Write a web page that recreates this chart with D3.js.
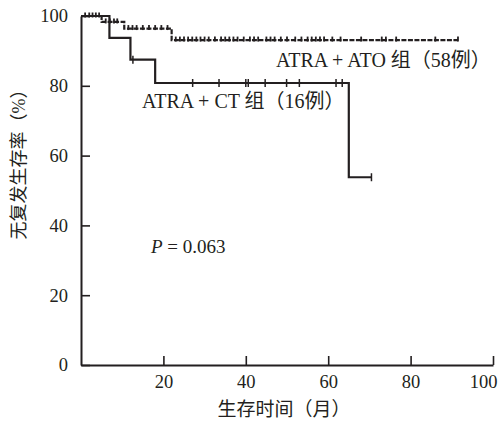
<!DOCTYPE html>
<html lang="zh">
<head>
<meta charset="UTF-8">
<title>无复发生存率</title>
<script src="https://d3js.org/d3.v7.min.js"></script>
<style>
    body { margin: 0; background: #fff; }
    svg text { font-family: "Liberation Serif", "Times New Roman", "Noto Sans CJK SC", serif; fill: #231f20; }
    .cjk { font-family: "Liberation Serif", "Noto Sans CJK SC", serif; }
</style>
</head>
<body>
<svg width="502" height="428"></svg>
<script>
// ticks
const xTicks = [20, 40, 60, 80, 100];
const yTicks = [0, 20, 40, 60, 80, 100];

// ATRA + CT 组 (16例) : step curve
const ctTimes = [0, 6.9, 12, 18, 65, 70.5];
const ctSurv = [100, 93.75, 87.5, 80.8, 53.8, 53.8];
const ctCensor = [12.6, 27.1, 33.5, 40.0, 40.6, 44.7, 49.9, 53.0, 61.9, 63.4, 70.5];

// ATRA + ATO 组 (58例)
const atoTimes = [0, 5, 10.5, 22, 91.5];
const atoSurv = [100, 98.3, 96.4, 93.1, 93.1];
const atoCensor = [1, 2, 2.8, 3.6, 4.4, 6, 7, 8, 8.8, 11.5, 12.5, 13.5, 15, 16.5, 18, 19.5, 21,
    23, 24, 25, 26, 27, 28, 29, 30, 31, 32.5, 34, 35, 36, 37, 38, 39.5, 41, 42, 43, 45, 46, 47,
    48.5, 50, 52, 53.5, 55, 56, 57, 58, 59, 61, 63, 68, 73, 74, 76.5, 86, 91.5];

const svg = d3.select('svg');
const margin = {left: 81, top: 16, right: 9, bottom: 63};
const width = 502 - margin.left - margin.right;
const height = 428 - margin.top - margin.bottom;
const ink = '#231f20';

const x = d3.scaleLinear().domain([0, 100]).range([0, width]);
const y = d3.scaleLinear().domain([0, 100]).range([height, 0]);

const g = svg.append('g').attr('transform', `translate(${margin.left},${margin.top})`);

// axes with inward ticks
const yAxis = g.append('g')
    .call(d3.axisLeft(y).tickValues(yTicks).tickSize(-9).tickSizeOuter(0).tickPadding(13));
const xAxis = g.append('g')
    .attr('transform', `translate(0,${height})`)
    .call(d3.axisBottom(x).tickValues(xTicks).tickSize(-9).tickSizeOuter(0).tickPadding(10));

[xAxis, yAxis].forEach(a => {
    a.select('.domain').attr('stroke', ink).attr('stroke-width', 2);
    a.selectAll('.tick line').attr('stroke', ink).attr('stroke-width', 1.6);
    a.selectAll('.tick text').style('font-size', '18.5px').attr('fill', ink)
        .style('font-family', '"Liberation Serif", serif');
});
xAxis.selectAll('.tick text').filter(d => d === 100).attr('dx', -10);

// survival step value at time t
function survAt(times, surv, t) {
    let v = surv[0];
    times.forEach((tt, i) => { if (tt <= t) v = surv[i]; });
    return v;
}

const line = d3.line().x(d => x(d[0])).y(d => y(d[1])).curve(d3.curveStepAfter);

// ATO curve (dashed look)
g.append('path')
    .datum(atoTimes.map((t, i) => [t, atoSurv[i]]))
    .attr('d', line)
    .attr('fill', 'none')
    .attr('stroke', ink)
    .attr('stroke-width', 2.2)
    .attr('stroke-dasharray', '5,1.5');

g.selectAll('line.ato-cens')
    .data(atoCensor)
    .enter().append('line')
    .attr('class', 'ato-cens')
    .attr('x1', d => x(d)).attr('x2', d => x(d))
    .attr('y1', d => y(survAt(atoTimes, atoSurv, d)) - 3.5)
    .attr('y2', d => y(survAt(atoTimes, atoSurv, d)) + 1.5)
    .attr('stroke', ink)
    .attr('stroke-width', 1.8);

// CT curve
g.append('path')
    .datum(ctTimes.map((t, i) => [t, ctSurv[i]]))
    .attr('d', line)
    .attr('fill', 'none')
    .attr('stroke', ink)
    .attr('stroke-width', 2.2);

g.selectAll('line.ct-cens')
    .data(ctCensor)
    .enter().append('line')
    .attr('class', 'ct-cens')
    .attr('x1', d => x(d)).attr('x2', d => x(d))
    .attr('y1', d => y(survAt(ctTimes, ctSurv, d)) - 4)
    .attr('y2', d => y(survAt(ctTimes, ctSurv, d)) + 4)
    .attr('stroke', ink)
    .attr('stroke-width', 1.5);

// labels
svg.append('text').attr('class', 'cjk')
    .attr('x', 276).attr('y', 67)
    .style('font-size', '20px')
    .text('ATRA + ATO 组（58例）');

svg.append('text').attr('class', 'cjk')
    .attr('x', 142).attr('y', 108)
    .style('font-size', '20px')
    .text('ATRA + CT 组（16例）');

const p = svg.append('text')
    .attr('x', 151).attr('y', 253)
    .style('font-size', '19px');
p.append('tspan').style('font-style', 'italic').text('P');
p.append('tspan').text(' = 0.063');

// axis titles
svg.append('text').attr('class', 'cjk')
    .attr('x', 284).attr('y', 416)
    .attr('text-anchor', 'middle')
    .style('font-size', '19px')
    .text('生存时间（月）');

svg.append('text').attr('class', 'cjk')
    .attr('transform', 'translate(25,160) rotate(-90)')
    .attr('text-anchor', 'middle')
    .style('font-size', '18px')
    .text('无复发生存率（%）');
</script>
</body>
</html>
